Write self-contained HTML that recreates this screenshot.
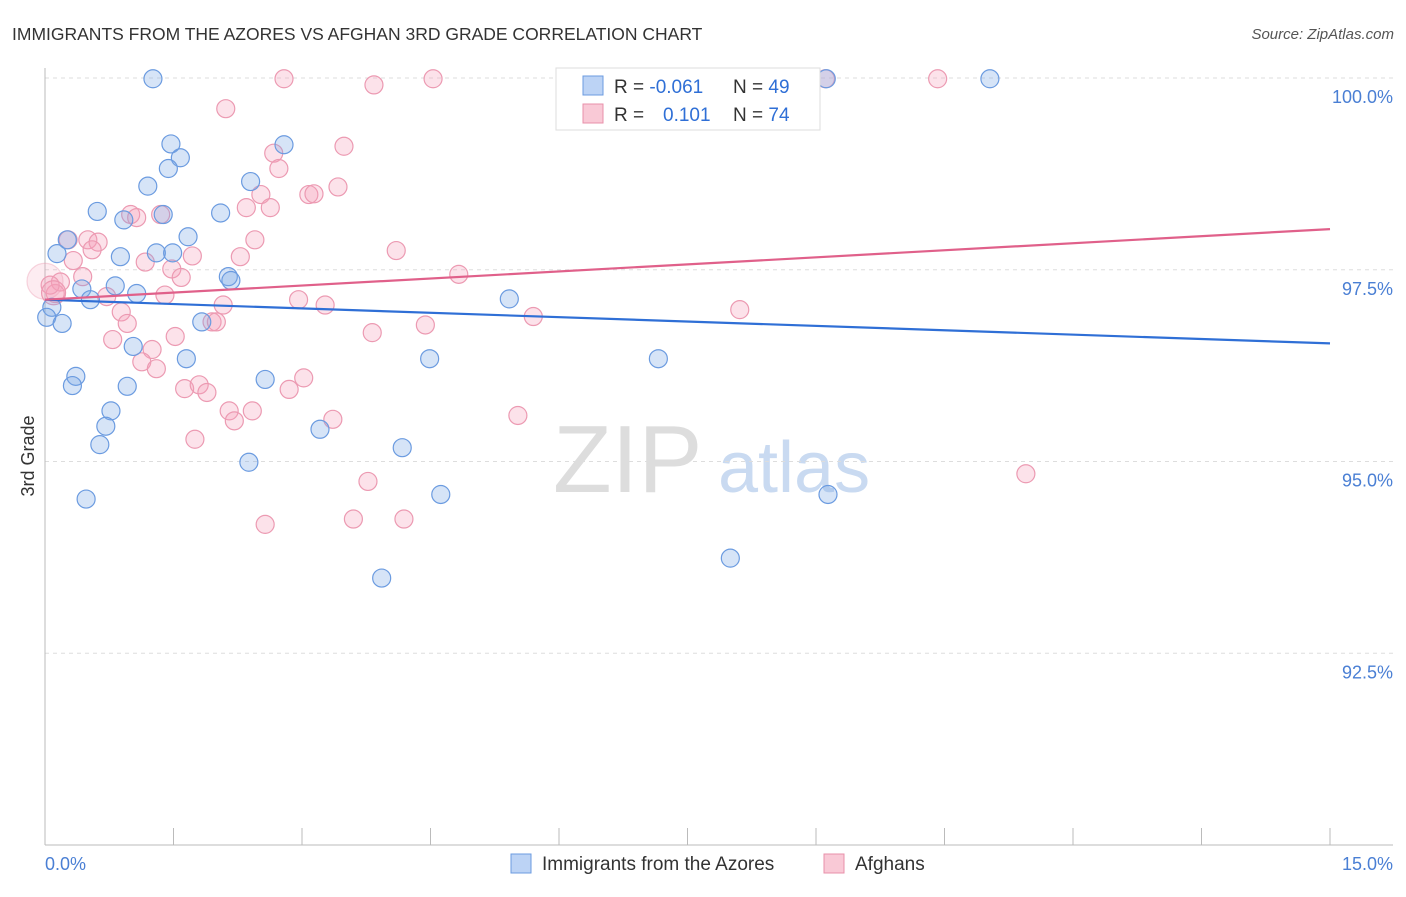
<!DOCTYPE html>
<html><head><meta charset="utf-8"><style>
body{margin:0;background:#fff;font-family:"Liberation Sans",sans-serif}
svg text{font-family:"Liberation Sans",sans-serif}
</style></head><body>
<svg id="c" width="1406" height="892">
<text x="12" y="40" font-size="17.5" fill="#333">IMMIGRANTS FROM THE AZORES VS AFGHAN 3RD GRADE CORRELATION CHART</text>
<text x="1394" y="39" font-size="15" fill="#555" font-style="italic" text-anchor="end">Source: ZipAtlas.com</text>
<g><text x="553" y="492" font-size="96" font-family="Liberation Serif,serif" fill="#ddd">ZIP</text><text x="718" y="492" font-size="72" fill="#c9daf1">atlas</text></g>
<g id="grid"></g><g id="pts"></g><g id="lines"></g>
<text x="34" y="456" font-size="18" fill="#333" transform="rotate(-90 34 456)" text-anchor="middle">3rd Grade</text>
<g>
<rect x="556" y="68" width="264" height="62" fill="#fff" stroke="#ddd"/>
<rect x="583" y="76" width="20" height="19" fill="#bcd3f5" stroke="#6b9be0"/>
<rect x="583" y="104" width="20" height="19" fill="#f9c9d6" stroke="#e890aa"/>
<text x="614" y="93" font-size="19" fill="#333">R = <tspan fill="#2f6fd6">-0.061</tspan><tspan x="733">N = </tspan><tspan fill="#2f6fd6">49</tspan></text>
<text x="614" y="121" font-size="19" fill="#333">R = <tspan x="663" fill="#2f6fd6">0.101</tspan><tspan x="733">N = </tspan><tspan fill="#2f6fd6">74</tspan></text>
</g>
<g>
<rect x="511" y="854" width="20" height="19" fill="#bcd3f5" stroke="#6b9be0"/>
<text x="542" y="870" font-size="19" fill="#333">Immigrants from the Azores</text>
<rect x="824" y="854" width="20" height="19" fill="#f9c9d6" stroke="#e890aa"/>
<text x="855" y="870" font-size="19" fill="#333">Afghans</text>
</g>
</svg>
<script>
const yTicks=[100,97.5,95,92.5];
const yTickLabels=["100.0%","97.5%","95.0%","92.5%"];
const xTickLabels=["0.0%","15.0%"];
const blueX=[1.26,9.12,11.03,2.79,1.47,1.58,1.44,1.20,2.40,0.61,2.05,0.92,1.38,0.26,1.67,0.14,0.88,1.30,1.49,2.14,2.17,0.82,0.43,1.07,0.53,5.42,0.08,0.02,0.20,1.83,1.03,1.65,4.49,7.16,0.36,0.32,0.96,2.57,0.77,0.71,0.64,3.21,4.17,2.38,0.48,4.62,9.14,8.00,3.93];
const blueY=[99.99,99.99,99.99,99.13,99.14,98.96,98.82,98.59,98.65,98.26,98.24,98.15,98.22,97.89,97.93,97.71,97.67,97.72,97.72,97.41,97.36,97.29,97.25,97.19,97.11,97.12,97.01,96.88,96.80,96.82,96.50,96.34,96.34,96.34,96.11,95.99,95.98,96.07,95.66,95.46,95.22,95.42,95.18,94.99,94.51,94.57,94.57,93.74,93.48];
const pinkX=[2.79,4.53,6.86,9.11,10.42,3.84,2.11,3.49,2.67,2.73,3.42,2.52,3.08,3.14,2.35,2.63,1.00,1.35,1.07,0.27,0.50,0.62,0.55,2.45,4.10,2.28,1.17,1.72,1.48,1.59,0.33,0.44,0.18,0.12,0.06,4.83,0.72,1.40,2.96,3.27,2.08,0.89,0.96,1.95,2.00,0.79,1.52,3.82,4.44,5.70,8.11,1.25,1.13,1.30,3.02,1.63,1.80,1.89,2.85,2.15,2.42,2.21,3.36,5.52,1.75,3.77,11.45,3.60,4.19,2.57,0.0,0.1];
const pinkY=[99.99,99.99,99.99,99.99,99.99,99.91,99.60,99.11,99.02,98.82,98.58,98.48,98.48,98.49,98.31,98.31,98.22,98.22,98.18,97.89,97.89,97.86,97.76,97.89,97.75,97.67,97.60,97.68,97.51,97.40,97.62,97.41,97.34,97.19,97.30,97.44,97.15,97.17,97.11,97.04,97.04,96.95,96.80,96.82,96.82,96.59,96.63,96.68,96.78,96.89,96.98,96.46,96.30,96.21,96.09,95.95,96.00,95.90,95.94,95.66,95.66,95.53,95.55,95.60,95.29,94.74,94.84,94.25,94.25,94.18,97.35,97.2];
const pinkR=[9,9,9,9,9,9,9,9,9,9,9,9,9,9,9,9,9,9,9,9,9,9,9,9,9,9,9,9,9,9,9,9,9,9,9,9,9,9,9,9,9,9,9,9,9,9,9,9,9,9,9,9,9,9,9,9,9,9,9,9,9,9,9,9,9,9,9,9,9,9,18,12];
const trendBlue=[97.11,96.54];
const trendPink=[97.11,98.03];
const xMin=0,xMax=15,yMin=90,yMax=100;
const X=v=>45+(v-xMin)/(xMax-xMin)*1285;
const Y=v=>845-(v-yMin)/(yMax-yMin)*767;
const NS="http://www.w3.org/2000/svg";
function mk(p,t,a){const e=document.createElementNS(NS,t);for(const k in a)e.setAttribute(k,a[k]);p.appendChild(e);return e;}
const grid=document.getElementById('grid');
yTicks.forEach((t,i)=>{
 const l=mk(grid,'line',{x1:45,x2:1393,y1:Y(t),y2:Y(t),stroke:'#ddd','stroke-dasharray':'4,4'});
 
 
 const tx=mk(grid,'text',{x:1393,y:Y(t)+25,'font-size':18,fill:'#4a7fd4','text-anchor':'end'});
 tx.textContent=yTickLabels[i];
 
 
});
const ax=mk(grid,'line',{x1:45,x2:45,y1:68,y2:845,stroke:'#bbb'});


const bx=mk(grid,'line',{x1:45,x2:1393,y1:845,y2:845,stroke:'#bbb'});


for(let k=0;k<=10;k++){const v=k*1.5;const t=mk(grid,'line',{x1:X(v),x2:X(v),y1:828,y2:845,stroke:'#bbb'});
 
 }
[[0,'start',45],[15,'end',1393]].forEach((d,i)=>{const t=mk(grid,'text',{x:d[2],y:870,'font-size':18,fill:'#4a7fd4','text-anchor':d[1]});t.textContent=xTickLabels[i];
 
 });
const pts=document.getElementById('pts');
pinkX.forEach((x,i)=>{const big=pinkR[i]>12;const c=mk(pts,'circle',{cx:X(x),cy:Y(pinkY[i]),r:pinkR[i],fill:big?'rgba(245,160,185,0.2)':'rgba(245,160,185,0.3)',stroke:big?'rgba(236,154,178,0.4)':'#ec9ab2','stroke-width':1.2});
 
 });
blueX.forEach((x,i)=>{const c=mk(pts,'circle',{cx:X(x),cy:Y(blueY[i]),r:9,fill:'rgba(120,165,230,0.3)',stroke:'#6b9be0','stroke-width':1.2});
 
 });
const lines=document.getElementById('lines');
const lb=mk(lines,'line',{x1:X(0),x2:X(15),y1:Y(trendBlue[0]),y2:Y(trendBlue[1]),stroke:'#2f6fd6','stroke-width':2.2});


const lp=mk(lines,'line',{x1:X(0),x2:X(15),y1:Y(trendPink[0]),y2:Y(trendPink[1]),stroke:'#e0608a','stroke-width':2.2});


</script>
</body></html>
